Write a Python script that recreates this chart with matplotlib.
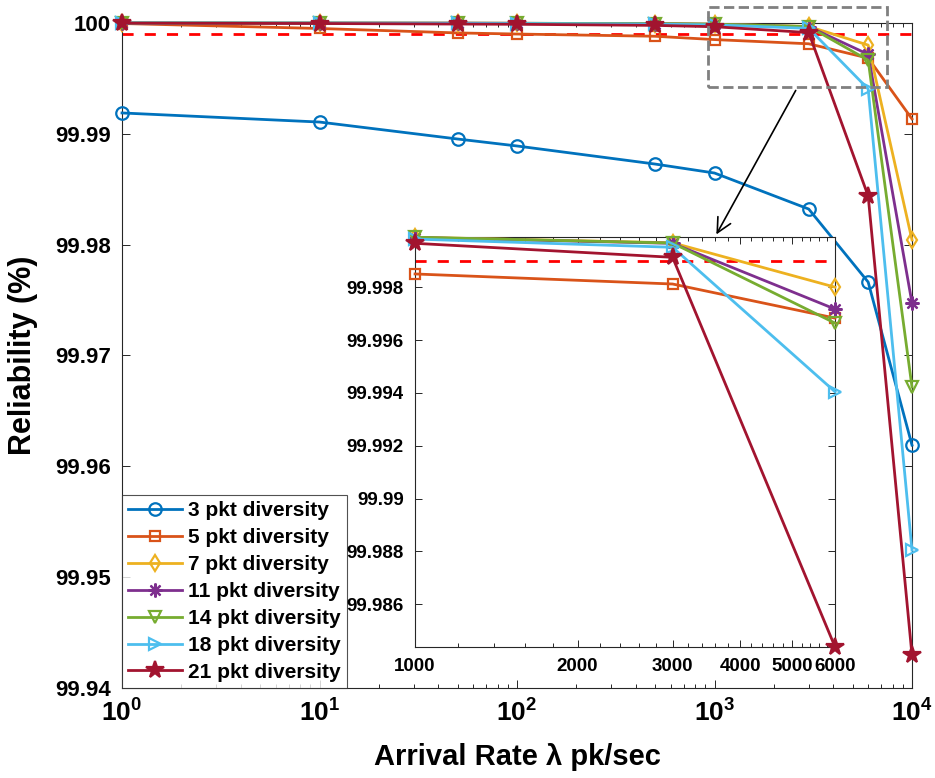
import numpy as np
import matplotlib.pyplot as plt
from matplotlib.ticker import FixedLocator, FuncFormatter, NullFormatter
from matplotlib.patches import Rectangle

plt.rcParams['font.family'] = ['Liberation Sans', 'DejaVu Sans']
plt.rcParams['font.weight'] = 'bold'
plt.rcParams['mathtext.fontset'] = 'custom'
plt.rcParams['mathtext.rm'] = 'Liberation Sans:bold'
plt.rcParams['mathtext.bf'] = 'Liberation Sans:bold'
plt.rcParams['mathtext.default'] = 'bf'

# arrival rate (pk/sec) and reliability (%) per diversity level
rate = np.array([1, 10, 50, 100, 500, 1000, 3000, 6000, 10000])
rel_3 = [99.99188, 99.99106, 99.98953, 99.98890, 99.98727, 99.98646, 99.98321, 99.97662, 99.96191]
rel_5 = [99.99995, 99.99950, 99.99910, 99.99900, 99.99880, 99.99850, 99.99812, 99.99683, 99.99134]
rel_7 = [100.0, 99.99999, 99.99998, 99.99997, 99.99994, 99.99989, 99.99968, 99.99800, 99.98042]
rel_11 = [100.0, 99.99999, 99.99998, 99.99997, 99.99993, 99.99988, 99.99966, 99.99717, 99.97473]
rel_14 = [100.0, 99.99999, 99.99998, 99.99997, 99.99994, 99.99989, 99.99967, 99.99664, 99.96715]
rel_18 = [100.0, 99.99999, 99.99997, 99.99995, 99.99990, 99.99982, 99.99951, 99.99404, 99.95244]
rel_21 = [99.99998, 99.99995, 99.99990, 99.99988, 99.99978, 99.99966, 99.99913, 99.98438, 99.94296]
target = 99.999

labels = ['3 pkt diversity', '5 pkt diversity', '7 pkt diversity', '11 pkt diversity',
          '14 pkt diversity', '18 pkt diversity', '21 pkt diversity']
series = [rel_3, rel_5, rel_7, rel_11, rel_14, rel_18, rel_21]
colors = ['#0072BD', '#D95319', '#EDB120', '#7E2F8E', '#77AC30', '#4DBEEE', '#A2142F']
markers = ['o', 's', 'd', (8, 2, 0), 'v', '>', '*']
msizes = [9, 7, 8, 10, 9, 9, 13]

# region of the main plot that the inset magnifies
zoom_x = (930, 7500)
zoom_y = (99.9942, 100.0014)

fig = plt.figure(figsize=(9.35, 7.78), dpi=100)
ax = fig.add_axes([0.1305, 0.1157, 0.8449, 0.8548])

for vals, lab, col, mk, ms in zip(series, labels, colors, markers, msizes):
    filled = mk == '*' or isinstance(mk, tuple)
    ax.plot(rate, vals, color=col, lw=2, marker=mk, ms=ms, mew=1.6,
            mfc=col if filled else 'none', label=lab, clip_on=False, zorder=3)
ax.plot([rate[0], rate[-1]], [target, target], color='red', ls='--', lw=2,
        dashes=(4, 4), zorder=2)

ax.set_xscale('log')
ax.set_xlim(rate[0], rate[-1])
ax.set_ylim(99.94, 100)
ax.set_yticks(np.linspace(99.94, 100, 7))
ax.yaxis.set_major_formatter(FuncFormatter(lambda v, _: f'{v:g}'))
ax.xaxis.set_major_formatter(FuncFormatter(lambda v, _: f'$10^{{{int(round(np.log10(v)))}}}$'))
ax.tick_params(which='both', direction='in', top=True, right=True, width=0.7, color='#262626')
ax.tick_params(which='major', length=6, pad=8)
ax.tick_params(which='minor', length=3)
ax.tick_params(axis='y', labelsize=16)
ax.tick_params(axis='x', labelsize=19)
for s in ax.spines.values():
    s.set_linewidth(0.8)
    s.set_color('#262626')

ax.set_xlabel('Arrival Rate λ pk/sec', fontsize=21, fontweight='bold', labelpad=12)
ax.set_ylabel('Reliability (%)', fontsize=22, fontweight='bold', labelpad=12)

leg = ax.legend(loc='lower left', bbox_to_anchor=(0, 0), borderaxespad=0,
                fontsize=15, frameon=True, fancybox=False, handlelength=2.6,
                handletextpad=0.25, labelspacing=0.38, borderpad=0.3)
leg.get_frame().set_edgecolor('#262626')
leg.get_frame().set_linewidth(0.8)
leg.set_zorder(5)

ax.add_patch(Rectangle((zoom_x[0], zoom_y[0]), zoom_x[1] - zoom_x[0], zoom_y[1] - zoom_y[0],
                       fill=False, ec='#808080', ls='--', lw=2, clip_on=False, zorder=4))
ax.annotate('', xy=(1006, 99.9807), xytext=(2618, 99.99413),
            arrowprops=dict(arrowstyle='->', color='k', lw=1.2, mutation_scale=26),
            annotation_clip=False, zorder=4)

# inset: 1000 to 6000 pk/sec, without the 3 pkt curve
axin = fig.add_axes([0.4439, 0.1684, 0.4492, 0.527])
sel = (rate >= 1000) & (rate <= 6000)
for vals, col, mk, ms in zip(series[1:], colors[1:], markers[1:], msizes[1:]):
    filled = mk == '*' or isinstance(mk, tuple)
    axin.plot(rate[sel], np.array(vals)[sel], color=col, lw=2, marker=mk, ms=ms, mew=1.6,
              mfc=col if filled else 'none', clip_on=False, zorder=3)
axin.plot([1000, 6000], [target, target], color='red', ls='--', lw=2, dashes=(4, 4), zorder=2)

axin.set_xscale('log')
axin.set_xlim(1000, 6000)
axin.set_ylim(rel_21[7], 99.9999)
axin.xaxis.set_major_locator(FixedLocator([1000, 2000, 3000, 4000, 5000, 6000]))
axin.xaxis.set_minor_locator(FixedLocator(np.arange(1200, 6000, 200)))
axin.xaxis.set_major_formatter(FuncFormatter(lambda v, _: f'{v:.0f}'))
axin.xaxis.set_minor_formatter(NullFormatter())
axin.set_yticks(np.arange(99.986, 99.9981, 0.002))
axin.yaxis.set_major_formatter(FuncFormatter(lambda v, _: f'{v:g}'))
axin.tick_params(which='both', direction='in', top=True, right=True, width=0.7,
                 color='#262626', labelsize=13.5)
axin.tick_params(which='major', length=5, pad=8)
axin.tick_params(which='minor', length=3)
for s in axin.spines.values():
    s.set_linewidth(0.8)
    s.set_color('#262626')

fig.savefig('out.png', dpi=100)
